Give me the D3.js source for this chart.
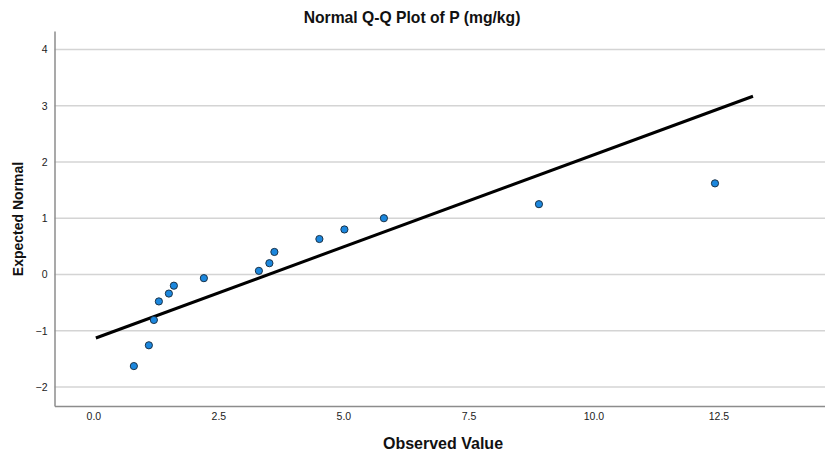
<!DOCTYPE html>
<html>
<head>
<meta charset="utf-8">
<script src="https://cdn.jsdelivr.net/npm/d3@7"></script>
<style>
  body { margin: 0; background: #fff; }
  text { font-family: "Liberation Sans", Arial, sans-serif; }
</style>
</head>
<body>
<div id="chart"></div>
<script>
// Normal Q-Q plot, SPSS style
const width = 825, height = 454;

// observed values and their expected normal scores
const observed = [0.81, 1.11, 1.21, 1.31, 1.51, 1.61, 2.21, 3.31, 3.52, 3.62, 4.52, 5.02, 5.81, 8.91, 12.43];
const expected = [-1.63, -1.26, -0.81, -0.48, -0.34, -0.20, -0.066, 0.064, 0.20, 0.40, 0.63, 0.80, 1.00, 1.25, 1.62];

// reference line end points
const lineX = [0.05, 13.19];
const lineY = [-1.13, 3.17];

const xTicks = [0, 2.5, 5, 7.5, 10, 12.5];
const yTicks = [-2, -1, 0, 1, 2, 3, 4];

const margin = {top: 31, right: 0, bottom: 48, left: 54.5};

const x = d3.scaleLinear().domain([-0.777, 14.63]).range([margin.left, width - margin.right]);
const y = d3.scaleLinear().domain([-2.34, 4.33]).range([height - margin.bottom, margin.top]);

const svg = d3.select("#chart").append("svg").attr("width", width).attr("height", height);

// gridlines
svg.append("g").selectAll("line")
  .data(yTicks)
  .join("line")
  .attr("x1", x.range()[0]).attr("x2", x.range()[1])
  .attr("y1", d => y(d)).attr("y2", d => y(d))
  .attr("stroke", "#d4d4d4").attr("stroke-width", 1.5);

// axes (no tick marks)
const xAxis = d3.axisBottom(x).tickValues(xTicks).tickFormat(d3.format(".1f")).tickSize(0).tickPadding(7);
const yAxis = d3.axisLeft(y).tickValues(yTicks).tickFormat(d3.format("d")).tickSize(0).tickPadding(7);

const gx = svg.append("g").attr("transform", `translate(0,${y.range()[0]})`).call(xAxis);
const gy = svg.append("g").attr("transform", `translate(${x.range()[0]},0)`).call(yAxis);
[gx, gy].forEach(g => {
  g.select(".domain").attr("stroke", "#8c8c8c").attr("stroke-width", 1.5);
  g.selectAll("text").attr("fill", "#222").style("font-size", "10.5px");
});

// reference line
svg.append("line")
  .attr("x1", x(lineX[0])).attr("y1", y(lineY[0]))
  .attr("x2", x(lineX[1])).attr("y2", y(lineY[1]))
  .attr("stroke", "#000").attr("stroke-width", 3);

// points
svg.append("g").selectAll("circle")
  .data(observed.map((v, i) => [v, expected[i]]))
  .join("circle")
  .attr("cx", d => x(d[0])).attr("cy", d => y(d[1]))
  .attr("r", 3.6)
  .attr("fill", "#1b87de")
  .attr("stroke", "#1c3347").attr("stroke-width", 1);

// titles
svg.append("text")
  .attr("x", 412).attr("y", 23)
  .attr("text-anchor", "middle")
  .style("font-size", "15.7px").style("font-weight", "bold").attr("fill", "#111")
  .text("Normal Q-Q Plot of P (mg/kg)");

svg.append("text")
  .attr("x", 443).attr("y", 449)
  .attr("text-anchor", "middle")
  .style("font-size", "16px").style("font-weight", "bold").attr("fill", "#111")
  .text("Observed Value");

svg.append("text")
  .attr("transform", `translate(23,219) rotate(-90)`)
  .attr("text-anchor", "middle")
  .style("font-size", "14px").style("font-weight", "bold").attr("fill", "#111")
  .text("Expected Normal");
</script>
</body>
</html>
